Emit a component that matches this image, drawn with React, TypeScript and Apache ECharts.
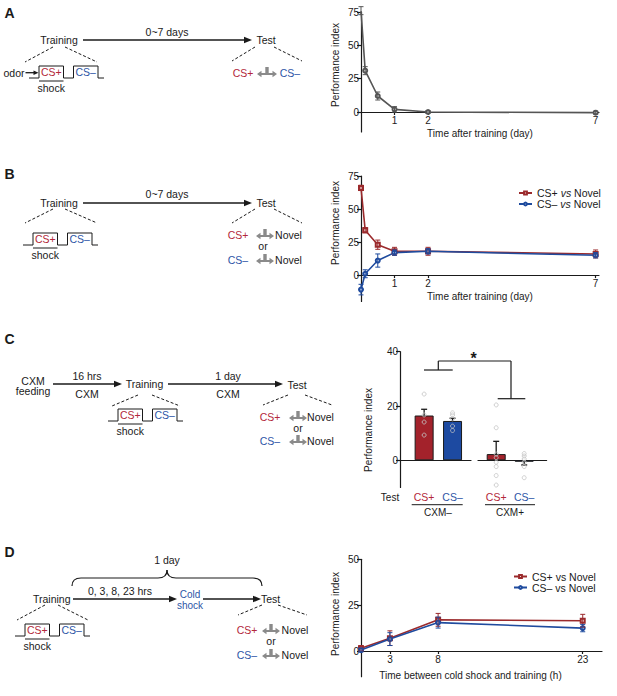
import React, { useEffect, useRef } from "react";
import * as echarts from "echarts";

// ---------- Panel A ----------
const aDays = [0, 0.125, 0.5, 1, 2, 7];
const aPI = [76, 31, 12, 2, 0, -0.5];
const aErr = [3, 3, 3, 2, 1, 1];
const aXTicks = [1, 2, 7];
const aYTicks = [0, 25, 50, 75];

// ---------- Panel B ----------
const bDays = [0, 0.125, 0.5, 1, 2, 7];
const bCSplus = [66, 34, 23, 18, 18, 16];
const bCSplusErr = [2, 2, 3.5, 3, 3, 3];
const bCSminus = [-11, 1, 11, 17, 18, 15];
const bCSminusErr = [4, 3, 5, 2, 2, 2];
const bXTicks = [1, 2, 7];
const bYTicks = [0, 25, 50, 75];
const bNames = ["CS+ vs Novel", "CS– vs Novel"];

// ---------- Panel C ----------
const cTests = ["CS+", "CS–"];
const cGroups = ["CXM–", "CXM+"];
const cMeansMinus = [16.5, 14.5];
const cSemMinus = [2.3, 1];
const cMeansPlus = [2.3, -0.5];
const cSemPlus = [4.7, 1.2];
const cDotsMinusCSplus = [24.4, 16.7, 14.1, 9.3];
const cDotsMinusCSminus = [17.5, 16.7, 15.3, 12.6, 11];
const cDotsPlusCSplus = [20.4, 12, 2.3, 1, -0.7, -2.3, -5.6, -9.1];
const cDotsPlusCSminus = [2.5, 1.6, 0.5, -0.7, -2.3, -6.4];
const cYTicks = [0, 20, 40];

// ---------- Panel D ----------
const dHours = [0, 3, 8, 23];
const dCSplus = [1.5, 7, 17, 16.5];
const dCSplusErr = [1.5, 4, 3.5, 3.5];
const dCSminus = [0.5, 6.5, 15.5, 12.5];
const dCSminusErr = [1, 3.5, 3, 2];
const dXTicks = [3, 8, 23];
const dYTicks = [0, 25, 50];
const dNames = ["CS+ vs Novel (D)", "CS– vs Novel (D)"];

const FONT = "'Liberation Sans', Arial, sans-serif";
const INK = "#1a1a1a";
const RED = "#b3283a";
const BLUE = "#2d55a6";
const LINE_RED = "#9b2a2c";
const LINE_BLUE = "#1f4b9e";
const BAR_RED = "#a3222b";
const BAR_BLUE = "#1d4aa1";
const GREY_LINE = "#555555";

// grid layout and y ranges
const GRIDS = [
  { left: 361, top: 12, width: 238, height: 120 },
  { left: 361, top: 176, width: 238, height: 125.5 },
  { left: 400, top: 351.7, width: 71, height: 135.8 },
  { left: 478, top: 351.7, width: 68.6, height: 135.8 },
  { left: 361, top: 559.3, width: 241, height: 117.4 },
];
const YR = [
  [-15, 75],
  [-20, 75],
  [-10, 40],
  [-10, 40],
  [-14, 50],
];
// offset (px) that puts a bottom x axis on y = 0
const zeroOffset = (i: number) => -GRIDS[i].height * (0 - YR[i][0]) / (YR[i][1] - YR[i][0]);

// ---------- graphic helpers ----------
const txt = (x: number, y: number, text: string, o: any = {}) => ({
  type: "text",
  x,
  y,
  rotation: o.rot || 0,
  silent: true,
  style: {
    text,
    fill: o.fill || INK,
    fontSize: o.size || 10.5,
    fontFamily: FONT,
    fontWeight: o.weight || "normal",
    align: o.align || "center",
    verticalAlign: "middle",
  },
});
const ln = (x1: number, y1: number, x2: number, y2: number, o: any = {}) => ({
  type: "line",
  silent: true,
  shape: { x1, y1, x2, y2 },
  style: { stroke: o.stroke || INK, lineWidth: o.w || 1, lineDash: o.dash || null },
});
const dash = (x1: number, y1: number, x2: number, y2: number) =>
  ln(x1, y1, x2, y2, { dash: [3, 2], w: 1 });
const arrow = (x1: number, x2: number, y: number, len = 8, hw = 3.3) => [
  ln(x1, y, x2 - len + 1, y, { w: 1.3 }),
  {
    type: "polygon",
    silent: true,
    shape: { points: [[x2, y], [x2 - len, y - hw], [x2 - len, y + hw]] },
    style: { fill: INK },
  },
];
const tArrow = (cx: number, cy: number, hw = 9) => ({
  type: "polygon",
  silent: true,
  shape: {
    points: [
      [cx - hw, cy], [cx - hw + 4.5, cy - 3.3], [cx - hw + 4.5, cy - 1.1], [cx - 1.7, cy - 1.1],
      [cx - 1.7, cy - 7], [cx + 1.7, cy - 7], [cx + 1.7, cy - 1.1], [cx + hw - 4.5, cy - 1.1],
      [cx + hw - 4.5, cy - 3.3], [cx + hw, cy], [cx + hw - 4.5, cy + 3.3], [cx + hw - 4.5, cy + 1.1],
      [cx - hw + 4.5, cy + 1.1], [cx - hw + 4.5, cy + 3.3],
    ],
  },
  style: { fill: "#8a8a8a" },
});
const wave = (x0: number, yb: number) => {
  const yh = yb - 12;
  const r1 = x0 + 10, f1 = x0 + 34.5, r2 = x0 + 44.5, f2 = x0 + 69, end = x0 + 75;
  return [
    {
      type: "polyline",
      silent: true,
      shape: {
        points: [[x0, yb], [r1, yb], [r1, yh], [f1, yh], [f1, yb], [r2, yb], [r2, yh], [f2, yh], [f2, yb], [end, yb]],
      },
      style: { stroke: INK, lineWidth: 1, fill: "none" },
    },
    txt((r1 + f1) / 2, yb - 6, "CS+", { fill: RED }),
    txt((r2 + f2) / 2, yb - 6, "CS–", { fill: BLUE }),
    ln(r1, yb + 3, f1, yb + 3),
    txt((r1 + f1) / 2, yb + 10, "shock"),
  ];
};
const bez = (x1: number, y1: number, cx: number, cy: number, x2: number, y2: number) => ({
  type: "bezierCurve",
  silent: true,
  shape: { x1, y1, x2, y2, cpx1: cx, cpy1: cy },
  style: { stroke: INK, lineWidth: 1.2, fill: "none" },
});

const graphics: any[] = [
  // ---- A ----
  txt(9.5, 13, "A", { size: 14, weight: "bold" }),
  txt(59, 40, "Training"),
  ...arrow(83, 252, 40),
  txt(167, 32, "0~7 days"),
  txt(266, 40, "Test"),
  dash(53, 47, 25, 62), dash(65, 47, 97, 62), dash(255, 47, 232, 61), dash(274, 47, 302, 61),
  txt(24.5, 72.7, "odor", { align: "right" }),
  ...arrow(25.5, 38.5, 72.7, 5, 2.3),
  ...wave(29, 78),
  txt(243, 73, "CS+", { fill: RED }),
  tArrow(267, 74, 10),
  txt(290, 73, "CS–", { fill: BLUE }),

  // ---- B ----
  txt(9.5, 174, "B", { size: 14, weight: "bold" }),
  txt(59, 203, "Training"),
  ...arrow(83, 252, 203),
  txt(167, 194, "0~7 days"),
  txt(266, 203, "Test"),
  dash(53, 209, 25, 223), dash(65, 209, 97, 223), dash(255, 209, 232, 223), dash(274, 209, 302, 223),
  ...wave(23, 245),
  txt(238, 235, "CS+", { fill: RED }),
  tArrow(265, 236),
  txt(288.5, 235, "Novel"),
  txt(263, 245.5, "or"),
  txt(238, 260, "CS–", { fill: BLUE }),
  tArrow(265, 261),
  txt(288.5, 260, "Novel"),

  // ---- C ----
  txt(9.5, 339, "C", { size: 14, weight: "bold" }),
  txt(33, 380.5, "CXM"),
  txt(33, 391.3, "feeding"),
  ...arrow(53, 122, 384),
  txt(87, 375.8, "16 hrs"),
  txt(87, 393.8, "CXM"),
  txt(144.5, 384, "Training"),
  ...arrow(168, 283, 384),
  txt(228, 375.8, "1 day"),
  txt(228, 393.8, "CXM"),
  txt(297, 385, "Test"),
  dash(138, 395, 112, 406), dash(152, 395, 180, 406), dash(288, 395, 263, 405), dash(305, 395, 332, 405),
  ...wave(108, 421),
  txt(270, 417, "CS+", { fill: RED }),
  tArrow(298, 418),
  txt(320.5, 417, "Novel"),
  txt(298, 427.5, "or"),
  txt(270, 441, "CS–", { fill: BLUE }),
  tArrow(298, 442),
  txt(320.5, 441, "Novel"),
  // C chart annotations
  txt(390, 497, "Test", { size: 10 }),
  ln(411.7, 504.7, 462.7, 504.7),
  txt(438, 512.5, cGroups[0], { size: 10 }),
  ln(485, 504.7, 535, 504.7),
  txt(510, 512.5, cGroups[1], { size: 10 }),
  ln(424, 370, 452.7, 370, { w: 1.2 }),
  ln(438.3, 370, 438.3, 361, { w: 1.2 }),
  ln(438.3, 361, 511, 361, { w: 1.2 }),
  ln(511, 361, 511, 398.7, { w: 1.2 }),
  ln(497.7, 398.7, 525.3, 398.7, { w: 1.2 }),
  txt(473.7, 358, "*", { size: 16, weight: "bold" }),

  // ---- D ----
  txt(9.5, 552, "D", { size: 14, weight: "bold" }),
  txt(167, 560, "1 day"),
  bez(72, 586, 72, 578, 81, 578),
  ln(81, 578, 158, 578, { w: 1.2 }),
  bez(158, 578, 167, 578, 167, 570),
  bez(167, 570, 167, 578, 176, 578),
  ln(176, 578, 253, 578, { w: 1.2 }),
  bez(253, 578, 262, 578, 262, 586),
  txt(51.7, 599, "Training"),
  ...arrow(73, 177, 599),
  txt(120, 591, "0, 3, 8, 23 hrs"),
  txt(190, 594.5, "Cold", { fill: BLUE, size: 10 }),
  txt(190, 605.5, "shock", { fill: BLUE, size: 10 }),
  ...arrow(203, 261, 599),
  txt(270.5, 598.5, "Test"),
  dash(45, 605, 17, 620), dash(58, 605, 88, 620), dash(262, 605, 238, 615), dash(278, 605, 307, 615),
  ...wave(15, 636),
  txt(247, 630, "CS+", { fill: RED }),
  tArrow(271, 631),
  txt(295, 630, "Novel"),
  txt(271, 641, "or"),
  txt(247, 655, "CS–", { fill: BLUE }),
  tArrow(271, 656),
  txt(295, 655, "Novel"),

  // y-axis titles
  txt(335, 65, "Performance index", { size: 10, rot: Math.PI / 2 }),
  txt(335, 223, "Performance index", { size: 10, rot: Math.PI / 2 }),
  txt(368, 430, "Performance index", { size: 10, rot: Math.PI / 2 }),
  txt(335, 614, "Performance index", { size: 10, rot: Math.PI / 2 }),
];

// ---------- axis helpers ----------
const axText = { color: INK, fontSize: 10, fontFamily: FONT };
const axLine = { lineStyle: { color: INK, width: 1.2 } };

const xVal = (gridIndex: number, min: number, max: number, ticks: number[], name: string, nameGap: number, extra: any = {}) => ({
  gridIndex,
  type: "value",
  position: "bottom",
  offset: zeroOffset(gridIndex),
  min,
  max,
  axisLine: { show: true, onZero: false, ...axLine },
  axisTick: { show: true, customValues: ticks, length: 3, lineStyle: { color: INK, width: 1.2 } },
  axisLabel: { customValues: ticks, margin: 3, ...axText },
  splitLine: { show: false },
  name,
  nameLocation: "middle",
  nameGap,
  nameTextStyle: { ...axText, ...(extra.nameTextStyle || {}) },
});
const yVal = (gridIndex: number, ticks: number[]) => ({
  gridIndex,
  type: "value",
  min: YR[gridIndex][0],
  max: YR[gridIndex][1],
  axisLine: { show: true, onZero: false, ...axLine },
  axisTick: { show: true, customValues: ticks, length: 4, lineStyle: { color: INK, width: 1.2 } },
  axisLabel: { customValues: ticks, margin: 2, ...axText },
  splitLine: { show: false },
});

const errSeries = (idx: number, data: number[][], color: string, cap = 2.5) => ({
  type: "custom",
  xAxisIndex: idx,
  yAxisIndex: idx,
  coordinateSystem: "cartesian2d",
  silent: true,
  z: 3,
  data,
  encode: { x: 0, y: 1 },
  renderItem: (_p: any, api: any) => {
    const x = api.value(0), y = api.value(1), e = api.value(2);
    const t = api.coord([x, y + e]);
    const b = api.coord([x, y - e]);
    const style = { stroke: color, lineWidth: 1 };
    return {
      type: "group",
      children: [
        { type: "line", shape: { x1: t[0], y1: t[1], x2: b[0], y2: b[1] }, style },
        { type: "line", shape: { x1: t[0] - cap, y1: t[1], x2: t[0] + cap, y2: t[1] }, style },
        { type: "line", shape: { x1: b[0] - cap, y1: b[1], x2: b[0] + cap, y2: b[1] }, style },
      ],
    };
  },
});
const barErrSeries = (idx: number, data: number[][]) => ({
  type: "custom",
  xAxisIndex: idx,
  yAxisIndex: idx,
  coordinateSystem: "cartesian2d",
  silent: true,
  z: 4,
  data,
  encode: { x: 0, y: 1 },
  renderItem: (_p: any, api: any) => {
    const x = api.value(0), y = api.value(1), e = api.value(2);
    const end = y >= 0 ? y + e : y - e;
    const a = api.coord([x, y]);
    const b = api.coord([x, end]);
    const style = { stroke: INK, lineWidth: 1.3 };
    return {
      type: "group",
      children: [
        { type: "line", shape: { x1: a[0], y1: a[1], x2: b[0], y2: b[1] }, style },
        { type: "line", shape: { x1: b[0] - 3, y1: b[1], x2: b[0] + 3, y2: b[1] }, style },
      ],
    };
  },
});
const lineSeries = (idx: number, name: string, xs: number[], ys: number[], color: string, symbol: string, size = 4) => ({
  type: "line",
  name,
  xAxisIndex: idx,
  yAxisIndex: idx,
  data: xs.map((x, i) => [x, ys[i]]),
  symbol,
  symbolSize: size,
  showSymbol: true,
  lineStyle: { color, width: 1.6 },
  itemStyle: { color, borderColor: color },
  z: 2,
});
const dotSeries = (idx: number, pos: number, vals: number[]) => ({
  type: "scatter",
  xAxisIndex: idx,
  yAxisIndex: idx,
  data: vals.map((v) => [pos, v]),
  symbol: "circle",
  symbolSize: 4,
  itemStyle: { color: "rgba(255,255,255,0)", borderColor: "#c4c4c4", borderWidth: 1 },
  z: 5,
  silent: true,
});
const cXAxis = (gridIndex: number, min: number, max: number) => ({
  gridIndex,
  type: "value",
  position: "bottom",
  offset: zeroOffset(gridIndex),
  min,
  max,
  axisLine: { show: true, onZero: false, ...axLine },
  axisTick: { show: false },
  splitLine: { show: false },
  axisLabel: {
    customValues: [1, 2],
    margin: 31,
    formatter: (v: number) => `{${v === 1 ? "r" : "b"}|${cTests[Math.round(v) - 1]}}`,
    rich: {
      r: { color: RED, fontSize: 10.5, fontFamily: FONT },
      b: { color: BLUE, fontSize: 10.5, fontFamily: FONT },
    },
  },
});

export default function App() {
  const ref = useRef<HTMLDivElement>(null);
  useEffect(() => {
    document.body.style.margin = "0";
    if (!ref.current) return;
    const chart = echarts.init(ref.current, null, { renderer: "svg" });
    const option: any = {
      animation: false,
      backgroundColor: "#ffffff",
      textStyle: { fontFamily: FONT },
      grid: GRIDS,
      xAxis: [
        xVal(0, 0, 7.1, aXTicks, "Time after training (day)", 16),
        xVal(1, 0, 7.1, bXTicks, "Time after training (day)", 16),
        cXAxis(2, 0.15, 2.65),
        cXAxis(3, 0.35, 2.8),
        xVal(4, 0, 25, dXTicks, "Time between cold shock and training (h)", 19, {
          nameTextStyle: { padding: [0, 22, 0, 0] },
        }),
      ],
      yAxis: [
        yVal(0, aYTicks),
        yVal(1, bYTicks),
        yVal(2, cYTicks),
        { gridIndex: 3, type: "value", min: YR[3][0], max: YR[3][1], show: false },
        yVal(4, dYTicks),
      ],
      legend: [
        {
          data: bNames,
          orient: "vertical",
          left: 513,
          top: 182.5,
          itemWidth: 13,
          itemHeight: 3.5,
          itemGap: 0,
          selectedMode: false,
          formatter: (n: string) => n.replace(" vs ", " {i|vs} "),
          textStyle: {
            color: INK,
            fontSize: 10.5,
            fontFamily: FONT,
            rich: { i: { fontStyle: "italic", fontSize: 10.5, fontFamily: FONT, color: INK } },
          },
        },
        {
          data: dNames,
          orient: "vertical",
          left: 508,
          top: 566,
          itemWidth: 13,
          itemHeight: 3.5,
          itemGap: 0,
          selectedMode: false,
          formatter: (n: string) => n.replace(" (D)", ""),
          textStyle: { color: INK, fontSize: 10.5, fontFamily: FONT },
        },
      ],
      series: [
        // A
        lineSeries(0, "A", aDays, aPI, GREY_LINE, "emptyCircle", 4),
        errSeries(0, aDays.map((d, i) => [d, aPI[i], aErr[i]]), GREY_LINE),
        // B
        lineSeries(1, bNames[0], bDays, bCSplus, LINE_RED, "emptyRect", 4),
        lineSeries(1, bNames[1], bDays, bCSminus, LINE_BLUE, "emptyCircle", 4),
        errSeries(1, bDays.map((d, i) => [d, bCSplus[i], bCSplusErr[i]]), LINE_RED),
        errSeries(1, bDays.map((d, i) => [d, bCSminus[i], bCSminusErr[i]]), LINE_BLUE),
        // C
        {
          type: "bar",
          xAxisIndex: 2,
          yAxisIndex: 2,
          barWidth: 19,
          data: cMeansMinus.map((v, i) => ({
            value: [i + 1, v],
            itemStyle: { color: i === 0 ? BAR_RED : BAR_BLUE, borderColor: INK, borderWidth: 1 },
          })),
        },
        {
          type: "bar",
          xAxisIndex: 3,
          yAxisIndex: 3,
          barWidth: 19,
          data: cMeansPlus.map((v, i) => ({
            value: [i + 1, v],
            itemStyle: { color: i === 0 ? BAR_RED : BAR_BLUE, borderColor: INK, borderWidth: 1 },
          })),
        },
        barErrSeries(2, cMeansMinus.map((v, i) => [i + 1, v, cSemMinus[i]])),
        barErrSeries(3, cMeansPlus.map((v, i) => [i + 1, v, cSemPlus[i]])),
        dotSeries(2, 1, cDotsMinusCSplus),
        dotSeries(2, 2, cDotsMinusCSminus),
        dotSeries(3, 1, cDotsPlusCSplus),
        dotSeries(3, 2, cDotsPlusCSminus),
        // D
        lineSeries(4, dNames[0], dHours, dCSplus, LINE_RED, "emptyRect", 4),
        lineSeries(4, dNames[1], dHours, dCSminus, LINE_BLUE, "emptyCircle", 4),
        errSeries(4, dHours.map((d, i) => [d, dCSplus[i], dCSplusErr[i]]), LINE_RED),
        errSeries(4, dHours.map((d, i) => [d, dCSminus[i], dCSminusErr[i]]), LINE_BLUE),
      ],
      graphic: { elements: graphics },
    };
    chart.setOption(option);
    return () => chart.dispose();
  }, []);
  return <div ref={ref} style={{ width: 617, height: 696 }} />;
}
